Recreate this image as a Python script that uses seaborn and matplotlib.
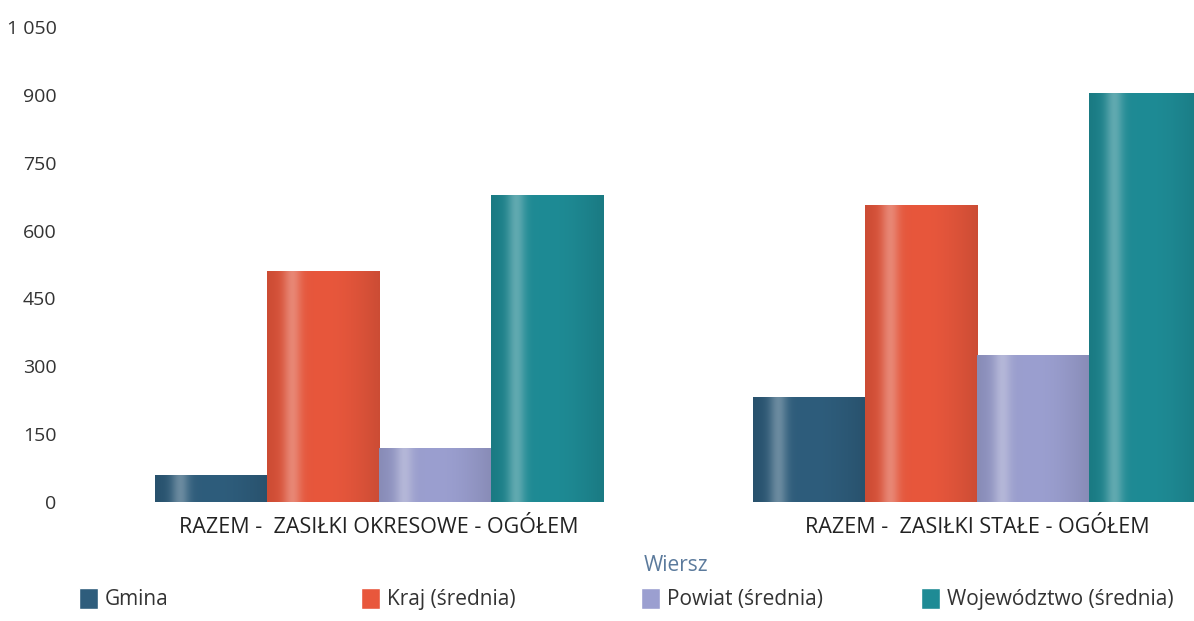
import numpy as np
import pandas as pd
import matplotlib.pyplot as plt
import matplotlib.colors as mcolors
from matplotlib.patches import Patch
import seaborn as sns

categories = ['RAZEM -  ZASIŁKI OKRESOWE - OGÓŁEM', 'RAZEM -  ZASIŁKI STAŁE - OGÓŁEM']
series_names = ['Gmina', 'Kraj (średnia)', 'Powiat (średnia)', 'Województwo (średnia)']
gmina = [60, 233]
kraj = [510, 657]
powiat = [120, 325]
wojewodztwo = [679, 904]
y_ticks = [0, 150, 300, 450, 600, 750, 900, 1050]
y_tick_labels = ['0', '150', '300', '450', '600', '750', '900', '1 050']

colors = ['#2e5d7c', '#e8573c', '#9b9fd0', '#1e8b95']

rows = []
for name, vals in zip(series_names, [gmina, kraj, powiat, wojewodztwo]):
    for cat, v in zip(categories, vals):
        rows.append({'Wiersz': cat, 'Seria': name, 'Wartość': v})
df = pd.DataFrame(rows)

sns.set_style('white')
plt.rcParams['font.family'] = ['Open Sans', 'DejaVu Sans']

fig = plt.figure(figsize=(11.94, 6.21), dpi=100)
ax = fig.add_axes([80 / 1194, 1 - 502 / 621, (1194 - 80) / 1194, (502 - 27) / 621])

sns.barplot(data=df, x='Wiersz', y='Wartość', hue='Seria', hue_order=series_names,
            palette=colors, width=0.75, saturation=1, ax=ax, legend=False)

ax.set_ylim(0, 1050)
ax.set_xlim(-0.5, 1.363)


def shade(c):
    # cylinder-like sheen across the bar
    base = np.array(mcolors.to_rgb(c))
    t = np.linspace(0, 1, 64)
    light = np.clip(1 - 0.3 * np.exp(-((t - 0.22) / 0.08) ** 2), 0, 1)
    dark = 0.88 + 0.12 * np.sin(np.pi * t)
    img = np.empty((1, len(t), 3))
    for i in range(len(t)):
        col = base * dark[i]
        col = col + (1 - col) * (1 - light[i])
        img[0, i] = col
    return img


for patch in list(ax.patches):
    patch.set_edgecolor('none')
    x0, y0 = patch.get_x(), patch.get_y()
    w, h = patch.get_width(), patch.get_height()
    im = ax.imshow(shade(patch.get_facecolor()), extent=[x0, x0 + w, y0, y0 + h],
                   aspect='auto', interpolation='bicubic', zorder=patch.get_zorder() + 0.1)
    im.set_clip_path(patch)

ax.set_xlim(-0.5, 1.363)
ax.set_ylim(0, 1050)
ax.set_yticks(y_ticks)
ax.set_yticklabels(y_tick_labels, fontsize=14, color='#333333')
ax.tick_params(axis='x', labelsize=15.5, colors='#222222', pad=11, length=0)
ax.tick_params(axis='y', length=0, pad=17)
ax.set_ylabel('')
ax.set_xlabel('Wiersz', fontsize=15, color='#5b7a9c')
ax.xaxis.set_label_coords((676 - 80) / (1194 - 80), -(555 - 502) / 475)
sns.despine(ax=ax, left=True, bottom=True)

legend_x = [66, 348, 628, 908]
for name, c, lx in zip(series_names, colors, legend_x):
    leg = fig.legend([Patch(facecolor=c)], [name], loc='lower left',
                     bbox_to_anchor=(lx / 1194, -0.003), frameon=False, fontsize=15,
                     handlelength=0.95, handleheight=1.2, handletextpad=0.3,
                     borderpad=0.1, labelcolor='#333333')

fig.savefig('out.png', dpi=100)
